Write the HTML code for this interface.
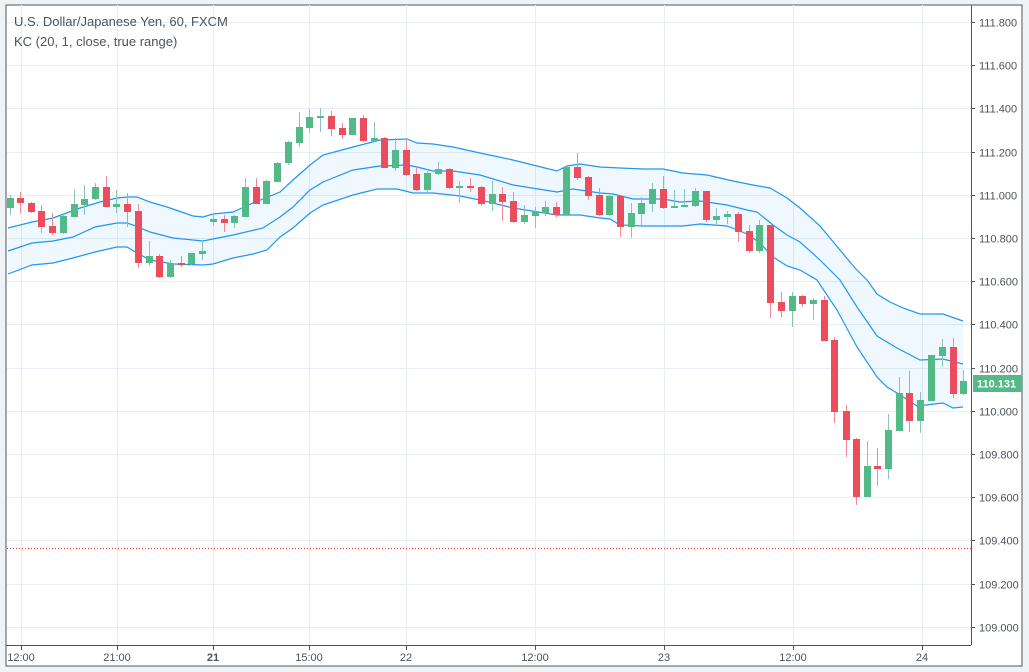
<!DOCTYPE html>
<html><head><meta charset="utf-8"><style>
html,body{margin:0;padding:0;background:#f0f3f6;}
body{width:1029px;height:672px;overflow:hidden;font-family:"Liberation Sans",sans-serif;}
</style></head><body>
<svg id="s" width="1029" height="672" xmlns="http://www.w3.org/2000/svg" style="position:absolute;left:0;top:0">
<rect x="6" y="5" width="1016" height="661" fill="#fff" stroke="#50535e" stroke-width="1"/>
<g id="grid" stroke="#e6edf3" stroke-width="1"></g>
<path id="band" fill="#2196f3" fill-opacity="0.07" stroke="none"/>
<polyline id="up" fill="none" stroke="#2196f3" stroke-width="1.2"/>
<polyline id="mid" fill="none" stroke="#2196f3" stroke-width="1.2"/>
<polyline id="lo" fill="none" stroke="#2196f3" stroke-width="1.2"/>
<line x1="7" y1="548.5" x2="971" y2="548.5" stroke="#e53935" stroke-width="1" stroke-dasharray="1,2"/>
<g id="c"></g>
<line x1="971.5" y1="5" x2="971.5" y2="645" stroke="#50535e"/>
<line x1="6" y1="645.5" x2="971" y2="645.5" stroke="#50535e"/>
<g id="lab" font-size="11" fill="#4c525e"></g>
<text x="14" y="26" font-size="13" fill="#4c525e">U.S. Dollar/Japanese Yen, 60, FXCM</text>
<text x="14" y="46" font-size="13" fill="#4c525e">KC (20, 1, close, true range)</text>
<rect x="973" y="375" width="49" height="17" fill="#53b987"/>
<text x="977" y="387.5" font-size="11" font-weight="bold" fill="#fff">110.131</text>
</svg>
<script>
var NS="http://www.w3.org/2000/svg";
function el(t,a,p){var e=document.createElementNS(NS,t);for(var k in a)e.setAttribute(k,a[k]);if(p)p.appendChild(e);return e;}
var grid=document.getElementById('grid'),lab=document.getElementById('lab');
for(var k=0;k<=14;k++){var y=Math.round(22+43.2*k)+0.5;el('line',{x1:7,y1:y,x2:971,y2:y},grid);
var t=el('text',{x:979,y:y+4},lab);t.textContent=(111.8-0.2*k).toFixed(3);
el('line',{x1:971,y1:y,x2:975,y2:y,stroke:'#50535e'},document.getElementById('s'));}
var vx=[21,117,213,309,406,535,664,793,922],vl=['12:00','21:00','21','15:00','22','12:00','23','12:00','24'];
vx.forEach(function(x,i){el('line',{x1:x+.5,y1:5,x2:x+.5,y2:645},grid);
el('line',{x1:x+.5,y1:645,x2:x+.5,y2:650,stroke:'#50535e'},document.getElementById('s'));
var t=el('text',{x:x,y:661,'text-anchor':'middle','font-weight':vl[i]=='21'?'bold':'normal'},lab);t.textContent=vl[i];});
var U=[[8,228],[32,222],[53,218],[80,208],[100,202],[117,198],[128,197],[137,197],[150,202],[167,207],[193,216],[203,217],[213,214],[233,212],[253,203],[280,192],[293,180],[310,165],[323,155],[353,147],[380,140],[407,139],[417,143],[433,144],[453,147],[480,153],[513,160],[557,171],[567,166],[580,164],[600,167],[620,168],[643,169],[663,169],[683,173],[707,175],[733,181],[753,185],[770,188],[787,198],[800,208],[820,226],[840,250],[855,268],[867,280],[877,294],[890,302],[903,308],[920,314],[943,314],[963,321]];
var M=[[8,251],[32,243],[53,241],[73,237],[95,227],[117,223],[127,223],[133,225],[150,232],[173,238],[203,241],[233,235],[263,228],[280,217],[293,207],[310,190],[323,182],[353,170],[380,166],[407,165],[417,167],[433,171],[453,171],[480,175],[513,185],[557,192],[573,189],[600,193],[613,194],[633,199],[663,199],[680,202],[700,201],[727,205],[747,210],[757,212],[773,225],[787,235],[800,242],[820,260],[840,280],[857,307],[877,336],[897,348],[920,360],[943,359],[963,364]];
var L=[[8,274],[32,265],[53,263],[73,258],[95,252],[117,247],[127,247],[137,253],[150,260],[173,264],[203,265],[213,264],[233,258],[253,254],[267,250],[280,237],[293,228],[310,213],[323,205],[353,195],[377,189],[397,189],[413,193],[433,193],[460,196],[480,200],[513,208],[557,215],[580,215],[600,218],[610,219],[620,225],[643,226],[683,226],[700,224],[727,226],[747,234],[760,243],[773,257],[787,266],[800,270],[817,280],[837,310],[857,347],[877,377],[887,387],[897,393],[917,406],[943,403],[953,408],[963,407]];
function pts(a){return a.map(function(p){return p.join(',')}).join(' ');}
document.getElementById('up').setAttribute('points',pts(U));
document.getElementById('mid').setAttribute('points',pts(M));
document.getElementById('lo').setAttribute('points',pts(L));
document.getElementById('band').setAttribute('d','M'+pts(U)+' L'+pts(L.slice().reverse())+' Z');
var C=[[10,198,208,195,215,1],[20,198,203,192,213,0],[31,203,212,202,213,0],[41,211,227,205,233,0],[52,226,233,213,235,0],[63,216,233,213,234,1],[74,204,217,189,217,1],[84,199,205,185,215,1],[95,187,199,183,200,1],[106,187,207,176,207,0],[116,204,207,190,213,1],[127,204,212,193,227,0],[138,211,263,204,268,0],[149,256,263,241,266,1],[159,256,277,254,278,0],[170,263,277,260,278,1],[181,263,265,256,267,0],[191,253,264,253,265,1],[202,251,254,242,260,1],[213,219,222,213,226,1],[224,219,223,215,232,0],[234,216,223,215,228,1],[245,187,217,178,217,1],[256,187,204,178,204,0],[266,181,204,180,204,1],[277,163,182,162,182,1],[288,142,163,141,165,1],[299,127,143,112,147,1],[309,117,128,109,133,1],[320,116,118,108,132,1],[331,116,129,111,136,0],[342,128,135,123,139,0],[352,118,135,118,135,1],[363,118,141,115,142,0],[374,138,141,122,142,1],[384,138,168,137,168,0],[395,150,168,138,171,1],[406,150,175,139,176,0],[416,174,190,168,191,0],[427,173,190,171,194,1],[438,169,174,162,175,1],[449,169,188,168,189,0],[459,186,188,181,203,1],[470,186,188,178,192,0],[481,187,204,186,206,0],[492,194,204,181,211,1],[502,194,202,187,221,0],[513,201,222,192,223,0],[524,215,222,205,224,1],[535,212,216,207,228,1],[545,207,213,201,216,1],[556,207,215,202,217,0],[566,167,215,165,216,1],[577,167,178,153,180,0],[588,177,196,176,200,0],[599,195,215,188,216,0],[609,196,215,195,216,1],[620,196,227,196,237,0],[631,213,227,203,238,1],[641,203,214,197,225,1],[652,189,204,183,212,1],[663,189,208,176,209,0],[674,206,208,190,208,1],[684,205,207,189,207,1],[695,191,206,188,207,1],[706,191,220,191,222,0],[716,216,220,208,224,1],[727,214,217,211,224,1],[738,214,232,212,242,0],[749,231,251,225,253,0],[759,225,251,220,253,1],[770,225,303,225,318,0],[781,302,311,292,317,0],[792,296,311,292,327,1],[802,296,304,295,307,0],[813,300,304,298,320,1],[824,300,341,296,341,0],[834,340,412,337,423,0],[846,411,440,405,457,0],[856,439,497,438,505,0],[867,466,497,441,497,1],[877,466,469,448,486,0],[888,430,469,414,479,1],[899,393,431,377,431,1],[909,393,421,371,432,0],[920,400,421,392,433,1],[931,355,401,355,401,1],[942,347,356,339,367,1],[953,347,394,338,398,0],[963,381,394,370,395,1]];
var g=document.getElementById('c');
C.forEach(function(d){var col=d[5]?'#53b987':'#eb4d5c',wc=d[5]?'#8ec3b9':'#f08a96';
el('line',{x1:d[0]+.5,y1:d[3],x2:d[0]+.5,y2:d[4],stroke:wc,'stroke-width':1},g);
el('rect',{x:d[0]-3,y:d[1],width:7,height:Math.max(2,d[2]-d[1]),fill:col},g);});
</script>
</body></html>
